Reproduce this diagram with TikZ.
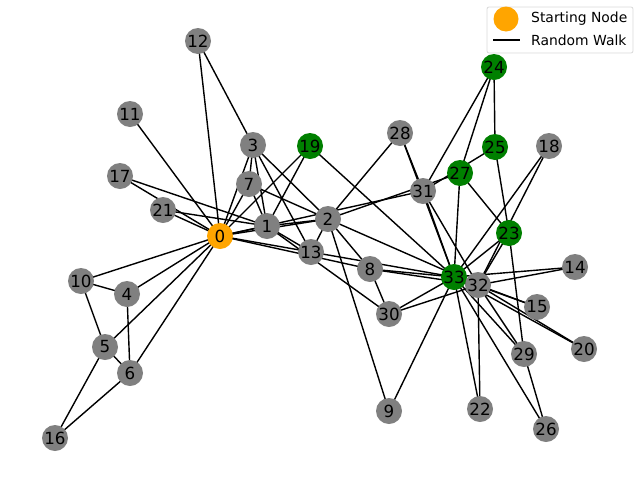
\documentclass[tikz,border=0pt]{standalone}
\usepackage{fontspec}
\setmainfont{DejaVu Sans}
\usetikzlibrary{backgrounds}
\definecolor{walkorange}{HTML}{FFA500}
\definecolor{walkgreen}{HTML}{008000}
\definecolor{nodegray}{HTML}{808080}
\tikzset{
  vertex/.style={circle,fill=nodegray,minimum size=26pt,inner sep=0pt,
    font=\fontsize{16.7}{20}\selectfont},
  visited/.style={vertex,fill=walkgreen},
  start/.style={vertex,fill=walkorange},
  edge/.style={line width=1.4pt,black}
}
\begin{document}
\begin{tikzpicture}[x=1pt,y=-1pt]
\useasboundingbox (0,0) rectangle (640,480);

% visited nodes
\foreach \n/\x/\y in {19/310/146,23/509/233,24/494/67,25/495/147,27/460/173,33/454/277}
  \node [visited] (n\n) at (\x,\y) {\n};

% other nodes
\foreach \n/\x/\y in {1/267/226,2/328/219,3/253/145,4/127/294,5/105/347,6/130/373,
  7/249/184,8/370/269,9/389/411,10/81/281,11/130/114,12/198/41,13/311/252,
  14/575/267,15/537/307,16/55/438,17/120/176,18/549/146,20/584/349,21/163/210,
  22/480/409,26/546/429,28/400/133,29/524/354,30/389/314,31/423/191,32/478/285}
  \node [vertex] (n\n) at (\x,\y) {\n};

\node [start] (n0) at (220,236) {0};

% edges
\begin{pgfonlayer}{background}
\foreach \a/\b in {0/1,0/2,0/3,0/4,0/5,0/6,0/7,0/8,0/10,0/11,0/12,0/13,0/17,0/19,0/21,0/31,
  1/2,1/3,1/7,1/13,1/17,1/19,1/21,1/30,
  2/3,2/7,2/8,2/9,2/13,2/27,2/28,2/32,
  3/7,3/12,3/13,4/6,4/10,5/6,5/10,5/16,6/16,
  8/30,8/32,8/33,9/33,13/33,14/32,14/33,15/32,15/33,18/32,18/33,19/33,
  20/32,20/33,22/32,22/33,23/25,23/27,23/29,23/32,23/33,24/25,24/27,24/31,
  25/31,26/29,26/33,27/33,28/31,28/33,29/32,29/33,30/32,30/33,31/32,31/33,32/33}
  \draw [edge] (n\a.center) -- (n\b.center);
\end{pgfonlayer}

% legend
\node [draw=black!15,line width=0.8pt,rounded corners=2pt,fill=white,
  minimum width=146pt,minimum height=46pt] (legend) at (560,30) {};
\node [circle,fill=walkorange,minimum size=25pt,inner sep=0pt] (startmark) at (506,19) {};
\coordinate (walkA) at (493,40);
\coordinate (walkB) at (520,40);
\draw [line width=1.4pt] (walkA) -- (walkB);
\node [anchor=west,font=\fontsize{13.9}{16}\selectfont,inner sep=0pt] (startlabel) at (531,19) {Starting Node};
\node [anchor=west,font=\fontsize{13.9}{16}\selectfont,inner sep=0pt] (walklabel) at (531,40) {Random Walk};
\end{tikzpicture}
\end{document}
